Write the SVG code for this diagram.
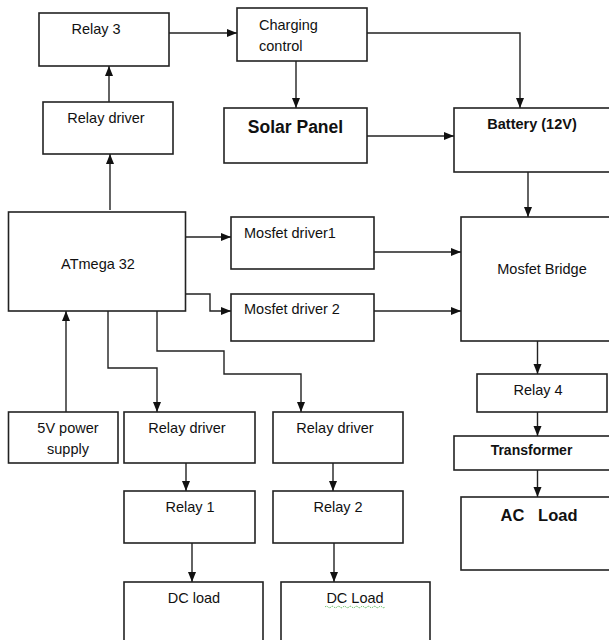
<svg xmlns="http://www.w3.org/2000/svg" width="609" height="640" viewBox="0 0 609 640">
<defs>
<marker id="ah" markerUnits="userSpaceOnUse" markerWidth="10" markerHeight="10" viewBox="0 0 10 10" refX="10" refY="5" orient="auto">
<path d="M0,1 L10,5 L0,9 Z" fill="#111"/>
</marker>
<style>
rect{fill:#fff;stroke:#222;stroke-width:1.6}
text{font-family:"Liberation Sans",Arial,sans-serif;font-size:14.5px;fill:#111}
.c{text-anchor:middle}
.b{font-weight:bold}
#edges path{fill:none;stroke:#222;stroke-width:1.4;marker-end:url(#ah)}
</style>
</defs>
<rect x="0" y="0" width="609" height="640" style="fill:#fff;stroke:none"/>
<g id="relay3"><rect x="39" y="13" width="130" height="53"/><text class="c" x="96" y="34">Relay 3</text></g>
<g id="charging"><rect x="237" y="8" width="130" height="53"/><text x="259" y="30">Charging</text><text x="259" y="51">control</text></g>
<g id="relaydriver3"><rect x="43" y="102" width="130" height="52"/><text class="c" x="106" y="123">Relay driver</text></g>
<g id="solar"><rect x="224" y="108" width="143" height="55"/><text class="c b" x="295.5" y="133" style="font-size:17.5px">Solar Panel</text></g>
<g id="battery"><rect x="454" y="108" width="160" height="64"/><text class="c b" x="532" y="129" style="font-size:14.5px">Battery (12V)</text></g>
<g id="atmega"><rect x="8.5" y="212" width="177" height="99"/><text class="c" x="98" y="269">ATmega 32</text></g>
<g id="mosfetdriver1"><rect x="231" y="217" width="143" height="52"/><text x="244" y="238">Mosfet driver1</text></g>
<g id="mosfetdriver2"><rect x="231" y="294" width="143" height="47"/><text x="244" y="314">Mosfet driver 2</text></g>
<g id="bridge"><rect x="461" y="217" width="155" height="124"/><text class="c" x="542" y="274">Mosfet Bridge</text></g>
<g id="relay4"><rect x="477" y="374" width="130" height="38"/><text class="c" x="538" y="395">Relay 4</text></g>
<g id="power"><rect x="8.5" y="412" width="109.5" height="51"/><text class="c" x="68" y="433">5V power</text><text class="c" x="68" y="454">supply</text></g>
<g id="relaydriver1"><rect x="124" y="412" width="131" height="51"/><text class="c" x="187" y="433">Relay driver</text></g>
<g id="relaydriver2"><rect x="273" y="412" width="130" height="51"/><text class="c" x="335" y="433">Relay driver</text></g>
<g id="transformer"><rect x="454" y="436" width="160" height="34"/><text class="c b" x="531.5" y="455" style="font-size:14px">Transformer</text></g>
<g id="relay1"><rect x="124" y="491" width="131" height="52"/><text class="c" x="190" y="512">Relay 1</text></g>
<g id="relay2"><rect x="273" y="491" width="130" height="52"/><text class="c" x="338" y="512">Relay 2</text></g>
<g id="acload"><rect x="461" y="497" width="155" height="73"/><text class="c b" x="539" y="521" style="font-size:16.5px;white-space:pre" xml:space="preserve">AC   Load</text></g>
<g id="dcload1"><rect x="124" y="582" width="139" height="64"/><text class="c" x="194" y="603">DC load</text></g>
<g id="dcload2"><rect x="281" y="582" width="149" height="64"/><text class="c" x="355" y="603">DC Load</text><path d="M325,607 q1.5,-1.5 3,0 t3,0 t3,0 t3,0 t3,0 t3,0 t3,0 t3,0 t3,0 t3,0 t3,0 t3,0 t3,0 t3,0 t3,0 t3,0 t3,0 t3,0 t3,0 t3,0" fill="none" stroke="#3a3" stroke-width="0.8" stroke-dasharray="1.5,1"/></g>
<g id="edges">
<path d="M169,33 H237"/>
<path d="M367,33 H520 V108"/>
<path d="M296,61 V108"/>
<path d="M367,136 H454"/>
<path d="M109,102 V66"/>
<path d="M110,210 V154"/>
<path d="M528,172 V217"/>
<path d="M186,237 H231"/>
<path d="M186,294 H210 V311 H231"/>
<path d="M374,252 H461"/>
<path d="M374,311 H461"/>
<path d="M537.5,341 V374"/>
<path d="M66,412 V311"/>
<path d="M108,311 V368 H157 V412"/>
<path d="M157,311 V351 H224 V374 H301 V412"/>
<path d="M186,463 V491"/>
<path d="M333,463 V491"/>
<path d="M192,543 V582"/>
<path d="M334,543 V582"/>
<path d="M537.5,412 V436"/>
<path d="M537.5,470 V497"/>
</g>
</svg>
